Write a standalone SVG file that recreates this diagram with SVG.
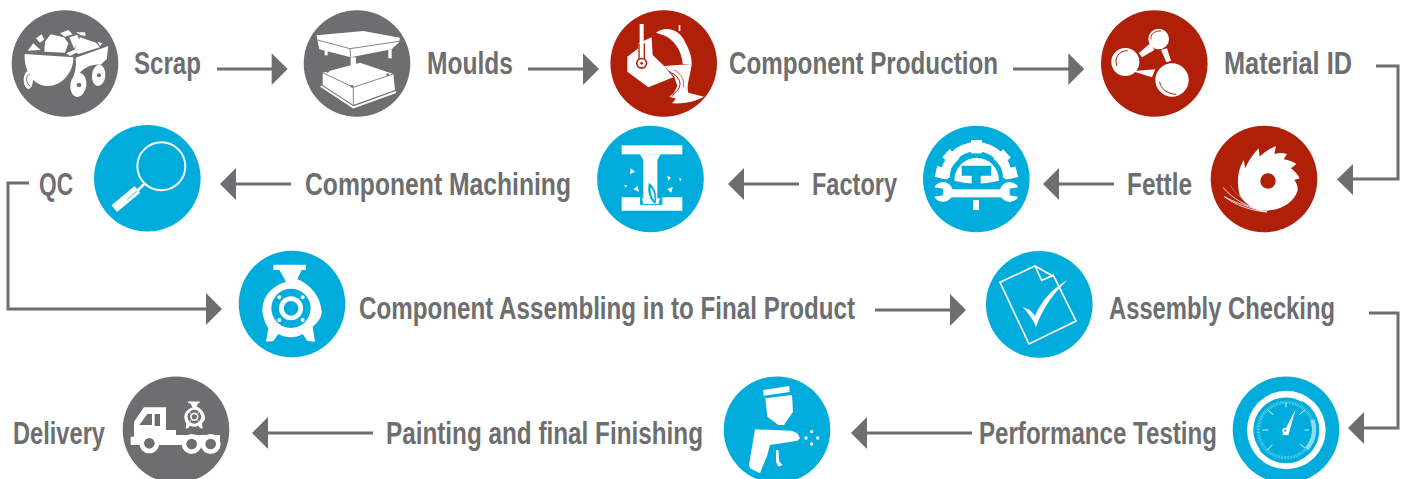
<svg xmlns="http://www.w3.org/2000/svg" xmlns:xlink="http://www.w3.org/1999/xlink" width="1407" height="479" viewBox="0 0 1407 479">
<style>
.t{font-family:"Liberation Sans Narrow","Liberation Sans",Arial,sans-serif;font-weight:700;font-size:31px;fill:#6d6e70}
.gr{fill:#6d6e70}.rd{fill:#b02008}.bl{fill:#00acdc}
.w{fill:#fff}
.c{fill:none;stroke:#6d6e70;stroke-width:3}
.h{fill:#6d6e70}
</style>
<defs>
<g id="pump">
<path class="w" d="M820,74H918V90H905L892,118C925,130 962,165 965,215C965,235 950,250 938,260L945,305L922,303L908,282C885,295 860,295 835,282L820,303L798,305L805,265C795,250 786,225 787,205C790,165 820,135 858,125L838,90H820Z"/>
<circle cx="873" cy="205" r="59" fill="currentColor"/>
<circle cx="873" cy="205" r="36" class="w"/>
<circle cx="873" cy="205" r="22" fill="currentColor"/>
<circle cx="838" cy="172" r="6" class="w"/><circle cx="908" cy="172" r="6" class="w"/><circle cx="838" cy="240" r="6" class="w"/><circle cx="908" cy="240" r="6" class="w"/>
</g>
<rect id="tooth" x="168" y="60" width="33" height="40" class="w"/>
</defs>
<g id="connectors">
<path class="c" d="M217,69H273"/><path class="h" d="M271.700,53.300L287.700,69L271.700,85Z"/>
<path class="c" d="M528,69H584"/><path class="h" d="M583,53.300L599,69L583,85Z"/>
<path class="c" d="M1013,69H1069"/><path class="h" d="M1068.300,53.300L1084.300,69L1068.300,85Z"/>
<path class="c" d="M1376,66H1398V179H1352"/><path class="h" d="M1353,164L1337,179.500L1353,195Z"/>
<path class="c" d="M1114,184H1058"/><path class="h" d="M1059,168L1043,184L1059,200Z"/>
<path class="c" d="M799,184H743"/><path class="h" d="M744,168L728,184L744,200Z"/>
<path class="c" d="M291,184H235"/><path class="h" d="M236,168L220,184L236,200Z"/>
<path class="c" d="M29,183H8V309H207"/><path class="h" d="M206,293L222,309L206,325Z"/>
<path class="c" d="M875,310H953"/><path class="h" d="M950,294L966,310L950,326Z"/>
<path class="c" d="M1369,313H1398V428H1363"/><path class="h" d="M1364,412L1348,428L1364,444Z"/>
<path class="c" d="M972,433H866"/><path class="h" d="M867,417L851,433L867,449Z"/>
<path class="c" d="M373,433H267"/><path class="h" d="M268,417L252,433L268,449Z"/>
</g>
<g id="scrap">
<circle cx="65" cy="63.500" r="53.300" class="gr"/>
<g transform="scale(.33333)" class="w">
<path d="M74,162L220,172C222,210 190,260 140,258C95,255 72,210 74,162Z"/>
<path d="M227,173L325,138L320,178L302,194Q270,190 242,215L212,250Q232,210 227,173Z"/>
<path d="M83,152L100,130L122,150Z"/><path d="M108,115L125,103L133,118L120,128Z"/><path d="M133,155L135,125L152,103L192,112L205,130L195,158Z"/><path d="M180,100L205,90L218,103L195,110Z"/><path d="M208,112L232,105L240,125L222,145Z"/><path d="M228,97L255,97L257,108L240,105Z"/><path d="M240,112L288,128L300,142L235,162L222,152Z"/><path d="M292,125L308,130L300,138Z"/><path d="M198,160L235,145L245,150L210,168Z"/>
<ellipse cx="85" cy="240" rx="14" ry="27"/>
<ellipse cx="235" cy="255" rx="24" ry="36" transform="rotate(8 235 255)"/>
<ellipse cx="296" cy="226" rx="20" ry="32" transform="rotate(5 296 226)"/>
<circle cx="237" cy="255" r="7" class="gr"/><circle cx="297" cy="226" r="6" class="gr"/>
<path d="M90,222C75,228 78,250 90,258" fill="none" stroke="#6d6e70" stroke-width="3"/>
</g>
</g>
<g id="moulds">
<circle cx="357" cy="63.500" r="53.300" class="gr"/>
<g transform="scale(.33333)" class="w">
<path d="M950,106L1090,93L1200,113L1197,127L1175,148L1052,172L958,148L952,120Z"/>
<path d="M952,120L1050,146L1198,124M1050,146L1052,172" fill="none" stroke="#6d6e70" stroke-width="2.500"/>
<rect x="974" y="148" width="9" height="18"/><rect x="1165" y="148" width="10" height="27"/><rect x="1052" y="172" width="16" height="30"/>
<path d="M968,218L1080,188L1180,222L1185,270L1060,315L968,255Z"/>
<path d="M968,218L1060,262L1180,222M1060,262V315" fill="none" stroke="#6d6e70" stroke-width="2.500"/>
<path d="M962,258L1060,322L1188,276" fill="none" stroke="#fff" stroke-width="6"/>
<circle cx="983" cy="214" r="4" class="gr"/><circle cx="1056" cy="259" r="4" class="gr"/><circle cx="1163" cy="224" r="4" class="gr"/>
</g>
</g>
<g id="component-production">
<circle cx="663.700" cy="63.500" r="53.300" class="rd"/>
<g transform="translate(470,0) scale(.33333)">
<path class="w" d="M472,170L505,145V130L545,112L548,165L580,196L610,232L535,262L472,215Z"/>
<rect x="505" y="130" width="20" height="60" class="rd"/>
<rect x="509" y="72" width="12" height="116" class="w"/>
<circle cx="515" cy="190" r="17" fill="#b02008"/><circle cx="515" cy="190" r="12" class="w"/><circle cx="515" cy="190" r="4" fill="#b02008"/>
<path class="w" d="M558,98C585,78 625,85 645,125C658,150 666,170 665,192L638,192C636,150 608,112 575,104Z"/>
<rect class="w" x="626" y="75" width="5" height="18"/>
<path class="w" d="M582,198L665,192C662,225 648,255 655,278L702,290C680,302 650,312 606,310L618,296L598,290L612,278L622,258L612,228Z"/>
<path d="M596,214C618,224 636,240 628,262C624,272 612,278 606,290" fill="none" stroke="#b02008" stroke-width="3"/>
<path d="M612,210C630,218 645,235 640,262" fill="none" stroke="#b02008" stroke-width="2"/>
</g>
</g>
<g id="material-id">
<circle cx="1154.300" cy="63.500" r="53.300" class="rd"/>
<g transform="translate(937,0) scale(.33333)">
<path class="w" d="M605,160L640,130L652,150L615,172Z"/><path class="w" d="M672,150L690,145L702,182L688,187Z"/><path class="w" d="M600,212L655,208L645,232L592,215Z"/>
<circle cx="665" cy="117" r="31" class="w"/><circle cx="565" cy="186" r="42" class="w"/><circle cx="705" cy="240" r="50" class="w"/>
<path d="M642,118C640,103 652,92 672,93" fill="none" stroke="#b02008" stroke-width="3"/>
<path d="M540,198C530,175 545,152 572,152" fill="none" stroke="#b02008" stroke-width="3"/>
<path d="M668,245C670,265 690,282 718,283" fill="none" stroke="#b02008" stroke-width="3"/>
</g>
</g>
<g id="fettle">
<circle cx="1264" cy="179" r="53.300" class="rd"/>
<g transform="translate(937,0) scale(.33333)">
<path class="w" d="M908,585C898,545 902,510 920,480L925,505C935,480 950,462 965,445L968,470C985,455 1000,445 1017,438L1012,462C1025,458 1038,458 1050,462L1040,478C1055,480 1068,485 1078,492L1062,505C1075,515 1083,525 1088,535L1072,540C1080,550 1083,560 1082,572C1070,605 1040,628 990,632C955,632 925,615 908,585Z"/>
<circle cx="993" cy="543" r="23" class="rd"/>
<path d="M858,562C885,595 930,622 990,636C940,625 890,605 862,590C900,618 940,630 985,636" fill="none" stroke="#fff" stroke-width="2.500"/>
<path d="M880,556C900,590 930,610 960,622" fill="none" stroke="#fff" stroke-width="1"/>
</g>
</g>
<g id="factory">
<circle cx="976.300" cy="179" r="53.300" class="bl"/>
<g transform="translate(915,120) scale(.33333)">
<path d="M90,174A94,94 0 0 1 278,174" fill="none" stroke="#fff" stroke-width="28"/>
<use xlink:href="#tooth" href="#tooth"/>
<use xlink:href="#tooth" href="#tooth" transform="rotate(47 184 185)"/>
<use xlink:href="#tooth" href="#tooth" transform="rotate(-47 184 185)"/>
<use xlink:href="#tooth" href="#tooth" transform="rotate(76 184 185)"/>
<use xlink:href="#tooth" href="#tooth" transform="rotate(-76 184 185)"/>
<path class="bl" d="M40,178H330V200H40Z"/>
<path class="w" d="M118,182A66,68 0 0 1 252,182Q184,200 118,182Z"/>
<path class="bl" d="M140,137H228V167H197V200H170V167H140Z"/>
<path class="bl" d="M100,183Q184,205 268,183V205H100Z"/>
<rect class="w" x="100" y="208" width="170" height="24"/>
<circle cx="84" cy="216" r="30" class="w"/><circle cx="284" cy="216" r="30" class="w"/>
<path class="bl" d="M320,200L284,206V226L320,232Z"/><path class="bl" d="M48,200L84,206V226L48,232Z"/>
<rect class="w" x="174" y="240" width="18" height="30"/>
</g>
</g>
<g id="component-machining">
<circle cx="650.500" cy="179" r="53.300" class="bl"/>
<g transform="translate(470,0) scale(.33333)" class="w">
<rect x="455" y="436" width="182" height="27"/>
<path d="M510,463H572L562,480V595H520V480Z"/>
<path d="M455,592H511V612H575V592H637V632H455Z"/>
<path d="M516,595L520,612H565L570,595Z"/>
<path d="M512,592V614H576V592" fill="none" stroke="#00acdc" stroke-width="3"/>
<path d="M537,548C558,565 562,590 556,612C540,600 530,575 537,548Z" fill="#00acdc"/>
<path d="M542,562C553,575 555,590 553,602C545,590 540,575 542,562Z"/>
<path d="M482,505L495,515L480,523Z"/><path d="M592,528L603,532L595,543Z"/><path d="M628,535L635,536L630,545Z"/><path d="M490,568L503,558L507,575Z"/><path d="M592,568L608,560L604,578Z"/><path d="M463,555L472,556L466,564Z"/>
</g>
</g>
<g id="qc">
<circle cx="147.300" cy="178.300" r="53.300" class="bl"/>
<g transform="scale(.33333)">
<circle cx="484" cy="499" r="72" fill="none" stroke="#fff" stroke-width="6"/>
<path d="M432,553L412,572" stroke="#fff" stroke-width="8" fill="none"/>
<path d="M343,626L412,568" stroke="#fff" stroke-width="26" fill="none"/>
<path d="M380,600L412,572" stroke="#00acdc" stroke-width="2" fill="none"/>
</g>
</g>
<g id="component-assembling">
<circle cx="292" cy="304" r="53.300" class="bl"/>
<use xlink:href="#pump" href="#pump" transform="translate(0,240) scale(.33333)" color="#00acdc"/>
</g>
<g id="assembly-checking">
<circle cx="1039.300" cy="304.400" r="53.300" class="bl"/>
<g transform="translate(980,245) scale(.33333)">
<path d="M60,112L165,63L222,95L288,228L147,297Z" fill="none" stroke="#fff" stroke-width="5"/>
<path d="M165,63L185,106L222,90" fill="none" stroke="#fff" stroke-width="5"/>
<path class="w" d="M128,186L150,195L165,212C185,170 215,130 262,106C225,140 190,185 168,246C160,225 145,205 128,186Z"/>
</g>
</g>
<g id="performance-testing">
<circle cx="1286" cy="429.700" r="53.300" class="bl"/>
<g transform="translate(1225,370) scale(.33333)">
<circle cx="184" cy="180" r="118" class="w"/>
<circle cx="183" cy="180" r="100" class="bl"/>
<path d="M102,240A100,100 0 0 1 232,93" fill="none" stroke="#fff" stroke-width="7"/>
<circle cx="183" cy="180" r="93" class="bl"/>
<circle cx="183" cy="180" r="83" fill="none" stroke="#8fdcf0" stroke-width="10" stroke-dasharray="1.500 3"/>
<path d="M262,150A83,83 0 0 1 245,236" fill="none" stroke="#8fdcf0" stroke-width="13"/>
<path d="M183,98V112M128,120L145,134M112,180H130M128,240L142,224M240,120L222,134M238,180H252M240,234L224,222" stroke="#fff" stroke-width="2.500" fill="none"/>
<path class="w" d="M172,195L212,118L190,196Z"/>
<circle cx="181" cy="182" r="9" class="w"/><circle cx="181" cy="182" r="3" class="bl"/>
</g>
</g>
<g id="painting">
<circle cx="777" cy="429.700" r="53.300" class="bl"/>
<g transform="translate(720,370) scale(.33333)" class="w">
<path d="M129,60L208,48L209,66L131,77Z"/>
<path d="M136,85L216,75L219,125L192,165H175L142,140Z"/>
<path d="M105,178L215,182L232,190L240,205L232,212L150,225L142,255L120,310L90,295L87,285Z"/>
<path d="M168,240H175L178,275L188,285L175,290L168,275Z"/>
<circle cx="275" cy="185" r="5"/><circle cx="258" cy="204" r="5"/><circle cx="293" cy="204" r="5"/><circle cx="275" cy="222" r="5"/>
</g>
</g>
<g id="delivery">
<circle cx="176" cy="429.700" r="53.300" class="gr"/>
<g transform="translate(0,240) scale(.33333)">
<path class="w" d="M402,590V545L432,502H498V570H528V585H660V605H605V615H392V590Z"/>
<path class="gr" d="M418,555L442,522H456V555Z"/><rect class="gr" x="464" y="522" width="16" height="36"/>
<circle cx="448" cy="610" r="30" class="w"/><circle cx="575" cy="612" r="30" class="w"/><circle cx="632" cy="612" r="30" class="w"/>
<circle cx="448" cy="610" r="16" class="gr"/><circle cx="575" cy="612" r="16" class="gr"/><circle cx="632" cy="612" r="16" class="gr"/>
<use xlink:href="#pump" href="#pump" transform="translate(583,525) scale(.35) translate(-873,-190)" color="#6d6e70"/>
</g>
</g>
<g id="labels">
<text class="t" x="134" y="74" textLength="67" lengthAdjust="spacingAndGlyphs">Scrap</text>
<text class="t" x="427" y="74" textLength="86" lengthAdjust="spacingAndGlyphs">Moulds</text>
<text class="t" x="729" y="74" textLength="269" lengthAdjust="spacingAndGlyphs">Component Production</text>
<text class="t" x="1224" y="74" textLength="128" lengthAdjust="spacingAndGlyphs">Material ID</text>
<text class="t" x="1127" y="195" textLength="65" lengthAdjust="spacingAndGlyphs">Fettle</text>
<text class="t" x="812" y="195" textLength="85" lengthAdjust="spacingAndGlyphs">Factory</text>
<text class="t" x="305" y="195" textLength="266" lengthAdjust="spacingAndGlyphs">Component Machining</text>
<text class="t" x="39" y="195" textLength="34" lengthAdjust="spacingAndGlyphs">QC</text>
<text class="t" x="359" y="319" textLength="496" lengthAdjust="spacingAndGlyphs">Component Assembling in to Final Product</text>
<text class="t" x="1109" y="319" textLength="226" lengthAdjust="spacingAndGlyphs">Assembly Checking</text>
<text class="t" x="979" y="444" textLength="238" lengthAdjust="spacingAndGlyphs">Performance Testing</text>
<text class="t" x="386" y="444" textLength="317" lengthAdjust="spacingAndGlyphs">Painting and final Finishing</text>
<text class="t" x="13" y="444" textLength="92" lengthAdjust="spacingAndGlyphs">Delivery</text>
</g>
</svg>
